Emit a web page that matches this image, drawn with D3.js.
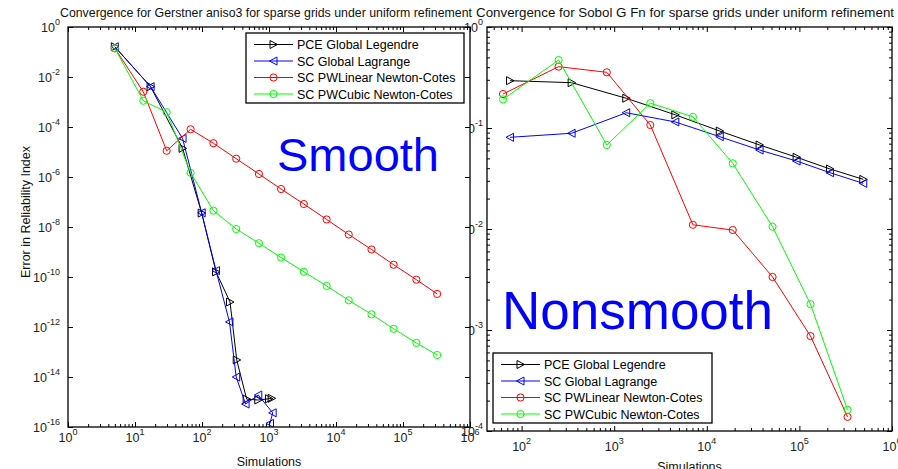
<!DOCTYPE html>
<html><head><meta charset="utf-8">
<script src="https://cdn.jsdelivr.net/npm/d3@7"></script>
<style>body{margin:0;background:#fff}svg{display:block;font-family:"Liberation Sans",Arial,sans-serif}</style>
</head><body><svg id="c" width="898" height="469"></svg>
<script>
// ---------------- DATA ----------------
// Left panel: Gerstner aniso3 (smooth)
const leftPceSims = [5, 17.1, 51.3, 98.9, 162, 262, 330, 464, 692, 1000, 1096];
const leftPceErr  = [0.162, 4.1e-3, 1.4e-5, 3.6e-8, 1.6e-10, 1.0e-11, 4.8e-14, 1.3e-15, 1.2e-15, 1.35e-15, 1.4e-15];
const leftLagSims = [5, 17.1, 51.3, 98.9, 162, 257, 324, 447, 692, 1135, 1035];
const leftLagErr  = [0.162, 4.1e-3, 3.5e-5, 3.7e-8, 1.8e-10, 1.6e-12, 1.0e-14, 8.3e-16, 1.9e-15, 3.7e-16, 1.4e-16];
const leftNcSims  = [5, 13.3, 29.7, 67.6, 148, 324, 708, 1514, 3311, 7244, 15488, 33884, 72444, 158489, 323594];
const leftLinErr  = [0.141, 2.57e-3, 1.12e-5, 8.1e-5, 2.24e-5, 5.4e-6, 1.32e-6, 3.3e-7, 8.3e-8, 2.0e-8, 5.0e-9, 1.26e-9, 3.1e-10, 7.8e-11, 2.1e-11];
const leftCubErr  = [0.141, 1.12e-3, 3.9e-4, 1.48e-6, 4.5e-8, 8.3e-9, 2.24e-9, 6.0e-10, 1.62e-10, 4.4e-11, 1.17e-11, 3.2e-12, 8.5e-13, 2.3e-13, 7.6e-14];
// Right panel: Sobol G function (nonsmooth)
const rightGlobSims = [75, 347, 1349, 4571, 13804, 37154, 93325, 213796, 489779];
const rightPceErr   = [0.294, 0.281, 0.197, 0.135, 0.0933, 0.0679, 0.0513, 0.0393, 0.0310];
const rightLagErr   = [0.0809, 0.0887, 0.1416, 0.1148, 0.082, 0.0605, 0.0471, 0.0361, 0.0283];
const rightNcSims   = [63, 251, 832, 2455, 7079, 19055, 51286, 131826, 331131];
const rightLinErr   = [0.217, 0.405, 0.356, 0.107, 0.011, 0.00977, 0.00335, 0.00087, 0.000138];
const rightCubErr   = [0.192, 0.471, 0.0679, 0.176, 0.129, 0.0447, 0.01054, 0.0018, 0.000162];

const seriesNames = ["PCE Global Legendre", "SC Global Lagrange", "SC PWLinear Newton-Cotes", "SC PWCubic Newton-Cotes"];
const seriesColors = ["#000000", "#0000ff", "#ff0000", "#00ff00"];
const seriesMarkers = ["triR", "triL", "circle", "circle"];

const leftTitle = "Convergence for Gerstner aniso3 for sparse grids under uniform refinement";
const rightTitle = "Convergence for Sobol G Fn for sparse grids under uniform refinement";
const leftXExp = [0,1,2,3,4,5,6];
const leftYExp = [0,-2,-4,-6,-8,-10,-12,-14,-16];
const rightXExp = [2,3,4,5,6];
const rightYExp = [0,-1,-2,-3,-4];

// ---------------- DRAW ----------------
const svg = d3.select("#c");
svg.append("rect").attr("width",898).attr("height",469).attr("fill","#fff");

function marker(g, type, x, y, color){
  if(type==="circle"){
    g.append("circle").attr("cx",x).attr("cy",y).attr("r",3.6).attr("fill","none").attr("stroke",color).attr("stroke-width",1);
  } else if(type==="triR"){
    g.append("path").attr("d",`M${x-3.5},${y-4}L${x+4},${y}L${x-3.5},${y+4}Z`).attr("fill","none").attr("stroke",color).attr("stroke-width",1);
  } else {
    g.append("path").attr("d",`M${x+3.5},${y-4}L${x-4},${y}L${x+3.5},${y+4}Z`).attr("fill","none").attr("stroke",color).attr("stroke-width",1);
  }
}

function panel(cfg){
  const g = svg.append("g");
  const x = d3.scaleLog().domain(cfg.xDom).range([cfg.x0,cfg.x1]);
  const y = d3.scaleLog().domain(cfg.yDom).range([cfg.y0,cfg.y1]);
  g.append("rect").attr("x",cfg.x0).attr("y",cfg.y0).attr("width",cfg.x1-cfg.x0).attr("height",cfg.y1-cfg.y0).attr("fill","#fff");

  // ticks
  const xMaj = [], xMin = [];
  for(let e=Math.floor(Math.log10(cfg.xDom[0])); e<=6; e++){
    const v = Math.pow(10,e);
    if(v>=cfg.xDom[0]*0.999 && v<=cfg.xDom[1]*1.001) xMaj.push(v);
    for(let m=2;m<=9;m++){const w=m*v; if(w>=cfg.xDom[0] && w<=cfg.xDom[1]) xMin.push(w);}
  }
  const yMaj = cfg.yMajExp.map(e=>Math.pow(10,e));
  const yMin = [];
  if(cfg.yMinor){
    for(let e=-4;e<0;e++) for(let m=2;m<=9;m++) yMin.push(m*Math.pow(10,e));
  }
  const tickStyle = s => s.call(a=>a.select(".domain").remove()).selectAll("line").attr("stroke","#000").attr("stroke-width",1);
  g.append("g").attr("transform",`translate(0,${cfg.y1})`).call(d3.axisBottom(x).tickValues(xMaj).tickSize(-5).tickFormat("")).call(tickStyle);
  g.append("g").attr("transform",`translate(0,${cfg.y1})`).call(d3.axisBottom(x).tickValues(xMin).tickSize(-3).tickFormat("")).call(tickStyle);
  g.append("g").attr("transform",`translate(0,${cfg.y0})`).call(d3.axisTop(x).tickValues(xMaj).tickSize(-5).tickFormat("")).call(tickStyle);
  g.append("g").attr("transform",`translate(0,${cfg.y0})`).call(d3.axisTop(x).tickValues(xMin).tickSize(-3).tickFormat("")).call(tickStyle);
  g.append("g").attr("transform",`translate(${cfg.x0},0)`).call(d3.axisLeft(y).tickValues(yMaj).tickSize(-5).tickFormat("")).call(tickStyle);
  g.append("g").attr("transform",`translate(${cfg.x1},0)`).call(d3.axisRight(y).tickValues(yMaj).tickSize(-5).tickFormat("")).call(tickStyle);
  if(yMin.length){
    g.append("g").attr("transform",`translate(${cfg.x0},0)`).call(d3.axisLeft(y).tickValues(yMin).tickSize(-3).tickFormat("")).call(tickStyle);
    g.append("g").attr("transform",`translate(${cfg.x1},0)`).call(d3.axisRight(y).tickValues(yMin).tickSize(-3).tickFormat("")).call(tickStyle);
  }

  // series
  const clipId = "clip"+cfg.id;
  svg.append("clipPath").attr("id",clipId).append("rect").attr("x",cfg.x0).attr("y",cfg.y0).attr("width",cfg.x1-cfg.x0).attr("height",cfg.y1-cfg.y0);
  const sg = g.append("g").attr("clip-path",`url(#${clipId})`);
  const line = d3.line().x(d=>x(d[0])).y(d=>y(d[1]));
  cfg.series.forEach((s,i)=>{
    const pts = s.xs.map((v,j)=>[v,s.ys[j]]);
    sg.append("path").attr("d",line(pts)).attr("fill","none").attr("stroke",seriesColors[i]).attr("stroke-width",1);
    pts.forEach(p=>marker(sg, seriesMarkers[i], x(p[0]), y(p[1]), seriesColors[i]));
  });

  // big annotation
  g.append("text").attr("x",cfg.ann.x).attr("y",cfg.ann.y).attr("font-size",cfg.ann.size).attr("fill","#0000ff").text(cfg.ann.text);

  // legend
  const L = cfg.legend;
  g.append("rect").attr("x",L.x).attr("y",L.y).attr("width",L.w).attr("height",L.h).attr("fill","#fff").attr("stroke","#000").attr("stroke-width",1.3);
  seriesNames.forEach((n,i)=>{
    const yy = L.y + 11.5 + i*16.5;
    g.append("line").attr("x1",L.x+8).attr("x2",L.x+47).attr("y1",yy).attr("y2",yy).attr("stroke",seriesColors[i]).attr("stroke-width",1);
    marker(g, seriesMarkers[i], L.x+27.5, yy, seriesColors[i]);
    g.append("text").attr("x",L.x+51).attr("y",yy+4.5).attr("font-size",12.5).attr("fill","#000").text(n);
  });

  // frame
  g.append("rect").attr("x",cfg.x0).attr("y",cfg.y0).attr("width",cfg.x1-cfg.x0).attr("height",cfg.y1-cfg.y0).attr("fill","none").attr("stroke","#000").attr("stroke-width",1.3);

  // tick labels
  const lab = g.append("g").attr("font-size",12.5).attr("fill","#222");
  cfg.xLabExp.forEach(e=>{
    const t = lab.append("text").attr("x",x(Math.pow(10,e))).attr("y",cfg.y1+cfg.xLabDy).attr("text-anchor","middle");
    t.append("tspan").text("10");
    t.append("tspan").attr("dy",-7).attr("font-size",9).text(String(e));
  });
  cfg.yMajExp.forEach(e=>{
    const t = lab.append("text").attr("x",cfg.x0-cfg.yLabDx).attr("y",y(Math.pow(10,e))+4.5).attr("text-anchor","end");
    t.append("tspan").text("10");
    t.append("tspan").attr("dy",-7).attr("font-size",9).text(String(e));
  });
  // axis titles
  g.append("text").attr("x",(cfg.x0+cfg.x1)/2).attr("y",cfg.xTitleY).attr("text-anchor","middle").attr("font-size",12.5).attr("fill","#111").text("Simulations");
  g.append("text").attr("x",cfg.titleX[0]).attr("y",17).attr("font-size",12.6).attr("fill","#111")
    .attr("textLength",cfg.titleX[1]-cfg.titleX[0]).attr("lengthAdjust","spacingAndGlyphs").text(cfg.title);
  if(cfg.yTitle){
    g.append("text").attr("transform",`translate(29.5,212) rotate(-90)`).attr("text-anchor","middle").attr("font-size",12.5).attr("fill","#111").text(cfg.yTitle);
  }
}

panel({
  id:"R", x0:487, x1:892, y0:27, y1:431, xDom:[42.3,1e6], yDom:[1,1e-4],
  yMajExp:rightYExp, yMinor:true, xLabExp:rightXExp, xLabDy:20, xTitleY:471, yLabDx:4,
  title:rightTitle, titleX:[476,894],
  series:[{xs:rightGlobSims,ys:rightPceErr},{xs:rightGlobSims,ys:rightLagErr},{xs:rightNcSims,ys:rightLinErr},{xs:rightNcSims,ys:rightCubErr}],
  ann:{x:502,y:329,size:53,text:"Nonsmooth"},
  legend:{x:493,y:353,w:219,h:70}
});
panel({
  id:"L", x0:68, x1:470, y0:27, y1:427, xDom:[1,1e6], yDom:[1,1e-16],
  yMajExp:leftYExp, yMinor:false, xLabExp:leftXExp, xLabDy:15, xTitleY:466, yLabDx:8,
  title:leftTitle, titleX:[60,472], yTitle:"Error in Reliability Index",
  series:[{xs:leftPceSims,ys:leftPceErr},{xs:leftLagSims,ys:leftLagErr},{xs:leftNcSims,ys:leftLinErr},{xs:leftNcSims,ys:leftCubErr}],
  ann:{x:277,y:171,size:47,text:"Smooth"},
  legend:{x:246,y:33,w:218,h:70}
});
</script></body></html>
